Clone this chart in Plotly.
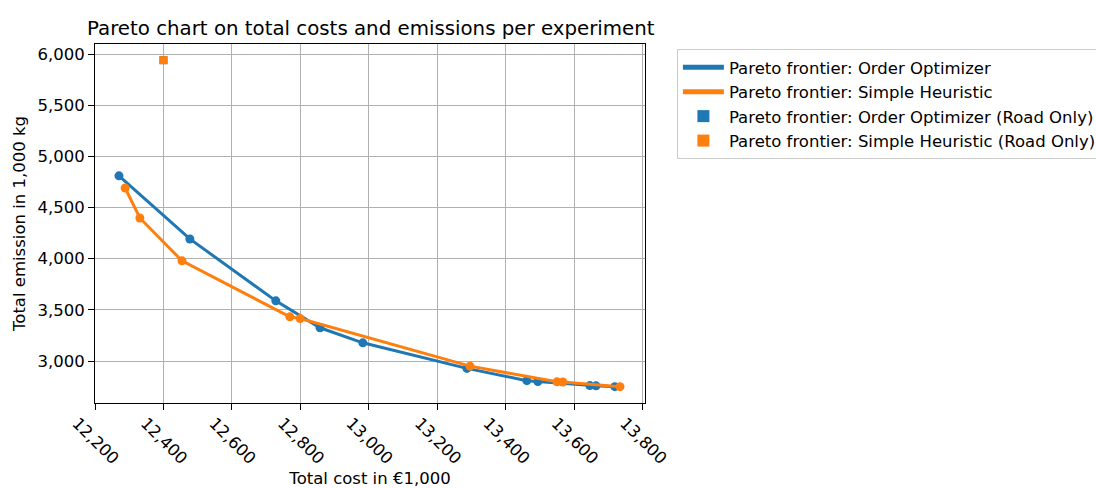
import plotly.graph_objects as go

# Order Optimizer pareto frontier
oo_cost = [12270, 12477, 12728, 12857, 12982, 13286, 13461, 13493, 13645, 13663, 13718]
oo_emis = [4810, 4193, 3588, 3325, 3178, 2928, 2808, 2800, 2760, 2758, 2750]
# Simple Heuristic pareto frontier
sh_cost = [12288, 12331, 12454, 12769, 12799, 13295, 13549, 13566, 13733]
sh_emis = [4691, 4398, 3979, 3432, 3415, 2950, 2797, 2795, 2750]
# Road only
oo_road_cost = [12400]
oo_road_emis = [5940]
sh_road_cost = [12400]
sh_road_emis = [5940]

x_ticks = [12200, 12400, 12600, 12800, 13000, 13200, 13400, 13600, 13800]
y_ticks = [3000, 3500, 4000, 4500, 5000, 5500, 6000]

BLUE = "#1f77b4"
ORANGE = "#ff7f0e"
FONT = "DejaVu Sans"
FS = 16.5

fig = go.Figure()
fig.add_trace(go.Scatter(x=oo_cost, y=oo_emis, mode="lines+markers",
                         line=dict(color=BLUE, width=3), marker=dict(size=9, color=BLUE),
                         showlegend=False))
fig.add_trace(go.Scatter(x=sh_cost, y=sh_emis, mode="lines+markers",
                         line=dict(color=ORANGE, width=3), marker=dict(size=9, color=ORANGE),
                         showlegend=False))
# legend-only line entries
fig.add_trace(go.Scatter(x=[None], y=[None], mode="lines", name="Pareto frontier: Order Optimizer",
                         line=dict(color=BLUE, width=4)))
fig.add_trace(go.Scatter(x=[None], y=[None], mode="lines", name="Pareto frontier: Simple Heuristic",
                         line=dict(color=ORANGE, width=4)))
fig.add_trace(go.Scatter(x=oo_road_cost, y=oo_road_emis, mode="markers",
                         name="Pareto frontier: Order Optimizer (Road Only)",
                         marker=dict(symbol="square", size=8, color=BLUE)))
fig.add_trace(go.Scatter(x=sh_road_cost, y=sh_road_emis, mode="markers",
                         name="Pareto frontier: Simple Heuristic (Road Only)",
                         marker=dict(symbol="square", size=8, color=ORANGE)))

axis_common = dict(showline=True, linecolor="black", linewidth=1, mirror=True,
                   showgrid=True, gridcolor="#b0b0b0", gridwidth=1,
                   ticks="outside", ticklen=6, tickcolor="black",
                   tickfont=dict(family=FONT, size=FS, color="black"),
                   zeroline=False, separatethousands=True, tickformat=",d",
                   automargin=False)

fig.update_layout(
    width=1096, height=488,
    margin=dict(l=95, r=451, t=44, b=85, autoexpand=False),
    paper_bgcolor="white", plot_bgcolor="white",
    font=dict(family=FONT, size=FS, color="black"),
    title=dict(text="Pareto chart on total costs and emissions per experiment",
               x=87/1096, xanchor="left", y=1-28/488, yanchor="middle",
               font=dict(family=FONT, size=19.8, color="black"),
               automargin=False),
    xaxis=dict(range=[12200, 13806], tickvals=x_ticks,
               tickangle=45, ticklabelshift=-18, ticklabelstandoff=-3,
               title=dict(text="Total cost in €1,000", font=dict(family=FONT, size=FS), standoff=7),
               **axis_common),
    yaxis=dict(range=[2590, 6098], tickvals=y_ticks,
               title=dict(text="Total emission in 1,000 kg", font=dict(family=FONT, size=FS), standoff=7),
               **axis_common),
    legend=dict(x=1.058, xanchor="left", y=1 - (49-44)/359, yanchor="top",
                bordercolor="#cccccc", borderwidth=1, bgcolor="white",
                font=dict(family=FONT, size=FS), itemsizing="constant", tracegroupgap=0,
                itemwidth=41),
)

fig.write_html("out.html")
